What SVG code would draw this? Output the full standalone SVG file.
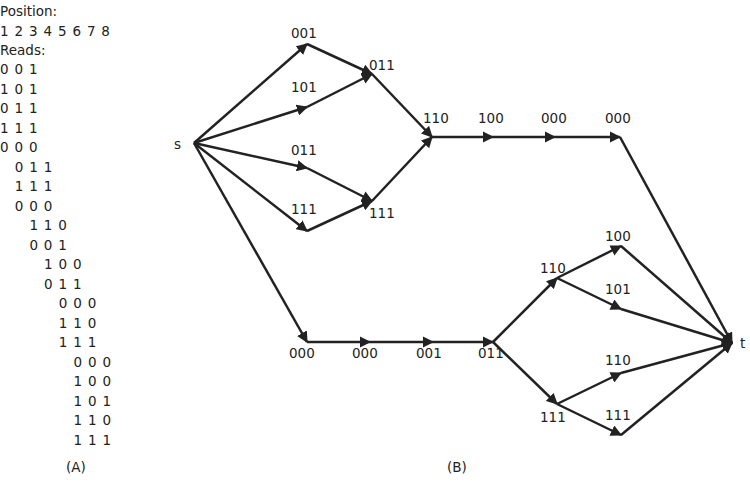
<svg xmlns="http://www.w3.org/2000/svg" width="750" height="503" viewBox="0 0 750 503">
<defs>
<marker id="ar" viewBox="0 0 10 10" refX="9" refY="5" markerWidth="4.5" markerHeight="4.5" orient="auto" markerUnits="strokeWidth"><path d="M0,0 L10,5 L0,10 z" fill="#222"/></marker>
<style>
text{font-family:"DejaVu Sans",sans-serif;font-size:13.5px;fill:#222}
.r{letter-spacing:0.8px}
.e{stroke:#222;stroke-width:2.5;fill:none;marker-end:url(#ar)}
</style>
</defs>
<rect width="750" height="503" fill="#fff"/>
<g id="reads">
<text x="0" y="16">Position:</text>
<text x="0" y="31" class="r" dy="4.5">1 2 3 4 5 6 7 8</text>
<text x="0" y="55">Reads:</text>
<text x="0" y="74" class="r">0 0 1</text>
<text x="0" y="93.5" class="r">1 0 1</text>
<text x="0" y="113" class="r">0 1 1</text>
<text x="0" y="132.5" class="r">1 1 1</text>
<text x="0" y="152" class="r">0 0 0</text>
<text x="14.7" y="171.5" class="r">0 1 1</text>
<text x="14.7" y="191" class="r">1 1 1</text>
<text x="14.7" y="210.5" class="r">0 0 0</text>
<text x="29.4" y="230" class="r">1 1 0</text>
<text x="29.4" y="249.5" class="r">0 0 1</text>
<text x="44.1" y="269" class="r">1 0 0</text>
<text x="44.1" y="288.5" class="r">0 1 1</text>
<text x="58.8" y="308" class="r">0 0 0</text>
<text x="58.8" y="327.5" class="r">1 1 0</text>
<text x="58.8" y="347" class="r">1 1 1</text>
<text x="73.5" y="366.5" class="r">0 0 0</text>
<text x="73.5" y="386" class="r">1 0 0</text>
<text x="73.5" y="405.5" class="r">1 0 1</text>
<text x="73.5" y="425" class="r">1 1 0</text>
<text x="73.5" y="444.5" class="r">1 1 1</text>
<text x="66" y="472">(A)</text>
<text x="447" y="472">(B)</text>
</g>
<g id="connectors">
<path class="e" d="M194,143 L307,44"/>
<path class="e" d="M194,143 L307,107"/>
<path class="e" d="M194,143 L307,168"/>
<path class="e" d="M194,143 L307,231"/>
<path class="e" d="M194,143 L307,342"/>
<path class="e" d="M307,44 L372,74"/>
<path class="e" d="M307,107 L372,74"/>
<path class="e" d="M307,168 L372,201"/>
<path class="e" d="M307,231 L372,201"/>
<path class="e" d="M372,74 L432,137"/>
<path class="e" d="M372,201 L432,137"/>
<path class="e" d="M432,137 L493,137"/>
<path class="e" d="M493,137 L555,137"/>
<path class="e" d="M555,137 L620,137"/>
<path class="e" d="M620,137 L732,343"/>
<path class="e" d="M307,342 L370,342"/>
<path class="e" d="M370,342 L433,342"/>
<path class="e" d="M433,342 L493,342"/>
<path class="e" d="M493,342 L557,278"/>
<path class="e" d="M493,342 L557,404"/>
<path class="e" d="M557,278 L621,246"/>
<path class="e" d="M557,278 L621,309"/>
<path class="e" d="M557,404 L621,373"/>
<path class="e" d="M557,404 L621,435"/>
<path class="e" d="M621,246 L732,343"/>
<path class="e" d="M621,309 L732,343"/>
<path class="e" d="M621,373 L732,343"/>
<path class="e" d="M621,435 L732,343"/>
</g>
<g id="s"><text x="174" y="149">s</text></g>
<g id="t"><text x="740" y="348">t</text></g>
<g id="n001a"><text x="291" y="38">001</text></g>
<g id="n101a"><text x="291" y="92">101</text></g>
<g id="n011a"><text x="369" y="70">011</text></g>
<g id="n011b"><text x="291" y="155">011</text></g>
<g id="n111b"><text x="291" y="214">111</text></g>
<g id="n111a"><text x="369" y="218">111</text></g>
<g id="n110a"><text x="423" y="123">110</text></g>
<g id="n100a"><text x="478" y="123">100</text></g>
<g id="n000a"><text x="541" y="123">000</text></g>
<g id="n000b"><text x="605" y="123">000</text></g>
<g id="n000c"><text x="289" y="358">000</text></g>
<g id="n000d"><text x="352" y="358">000</text></g>
<g id="n001b"><text x="416" y="358">001</text></g>
<g id="n011c"><text x="478" y="358">011</text></g>
<g id="n110b"><text x="540" y="273">110</text></g>
<g id="n111c"><text x="540" y="422">111</text></g>
<g id="n100b"><text x="605" y="241">100</text></g>
<g id="n101b"><text x="605" y="294">101</text></g>
<g id="n110c"><text x="605" y="365">110</text></g>
<g id="n111d"><text x="605" y="420">111</text></g>
</svg>
